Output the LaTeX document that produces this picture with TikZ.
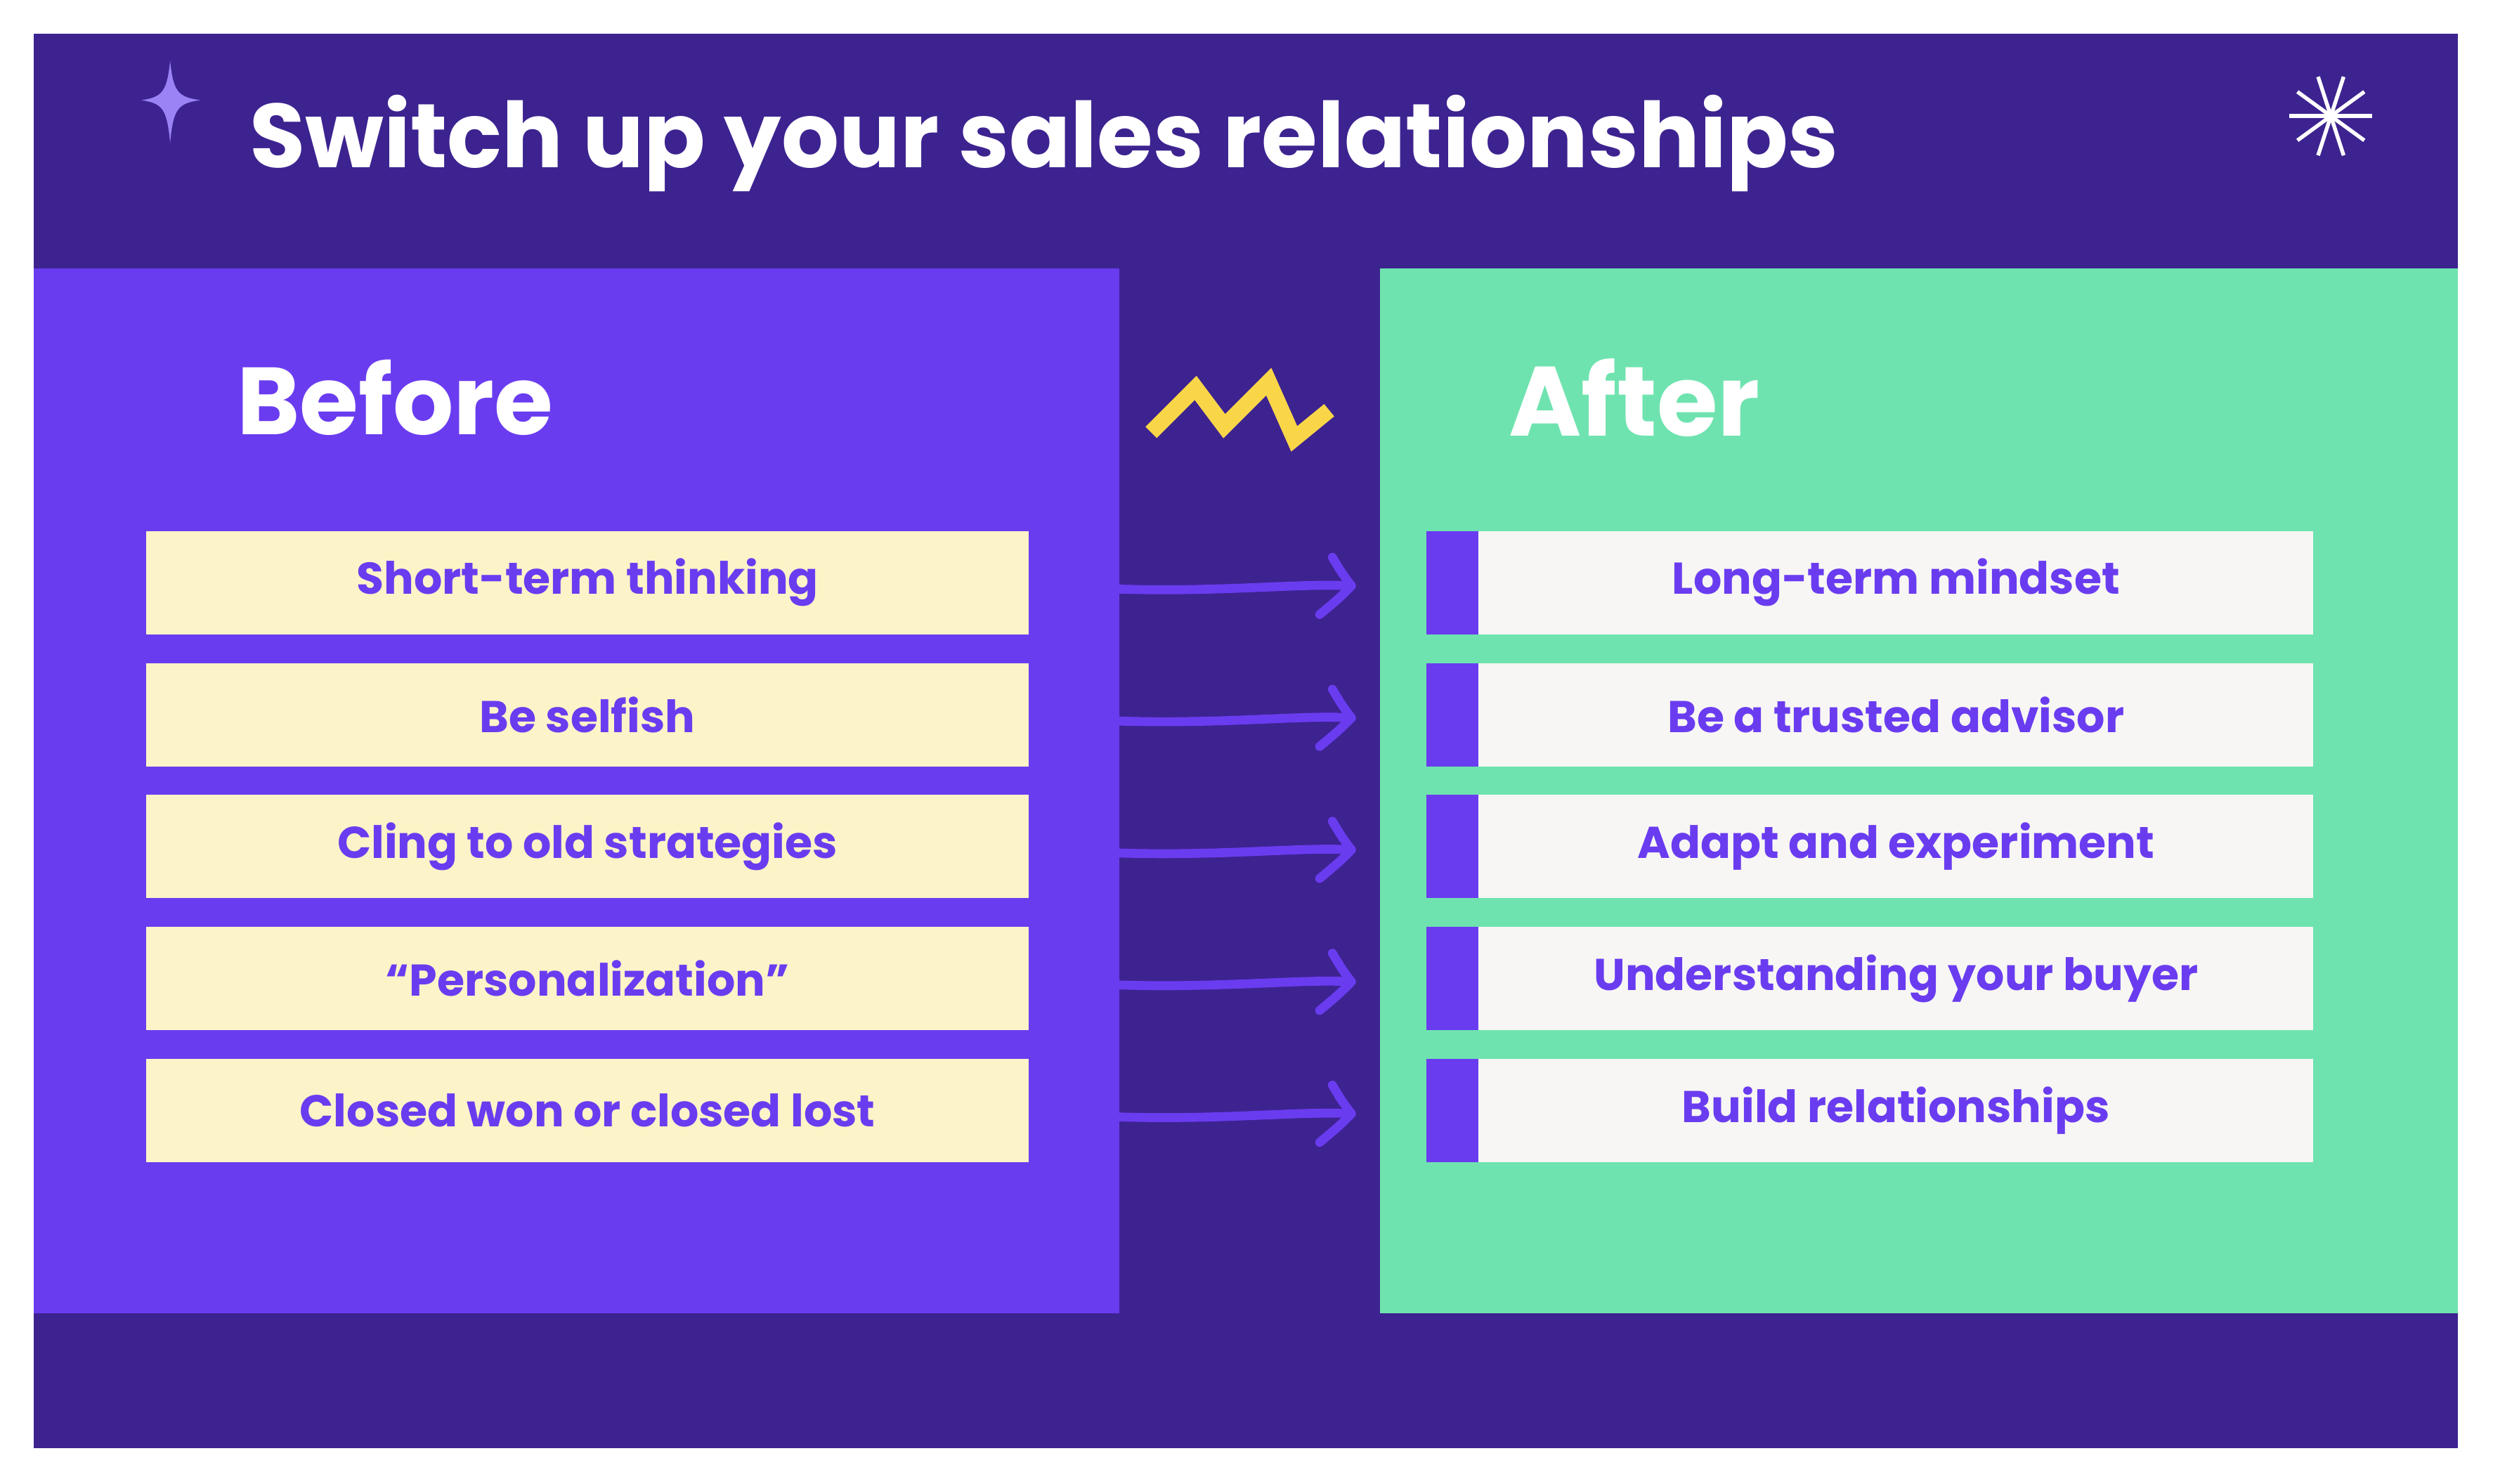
\documentclass[tikz,border=0pt]{standalone}
\usepackage{fontspec}
\setmainfont{Poppins}[BoldFont={* Bold}]
\begin{document}
\definecolor{dark}{HTML}{3D2390}
\definecolor{purp}{HTML}{6A3CF0}
\definecolor{mint}{HTML}{6FE3AF}
\definecolor{cream}{HTML}{FDF3C8}
\definecolor{offw}{HTML}{F7F6F4}
\definecolor{yel}{HTML}{F9D648}
\definecolor{lpur}{HTML}{9B82F5}
\begin{tikzpicture}[x=0.5pt,y=-0.5pt,
  lbox/.style={fill=cream,draw=none,minimum width=277.5pt,minimum height=32.5pt,inner sep=0,font=\bfseries\fontsize{14}{16}\selectfont,text=purp},
  rbox/.style={fill=offw,draw=none,minimum width=262.5pt,minimum height=32.5pt,inner sep=0,font=\bfseries\fontsize{14}{16}\selectfont,text=purp},
  arr/.style={draw=purp,line width=2.8pt,line cap=round,line join=round}]
\useasboundingbox (0,0) rectangle (1568,933);
\fill[white] (0,0) rectangle (1568,933);
\fill[dark] (21,21) rectangle (1546,911);
\fill[purp] (21,169) rectangle (704,826);
\fill[mint] (868,169) rectangle (1546,826);
\node[anchor=west,text=white,font=\bfseries\fontsize{28.5}{34}\selectfont] (title) at (150,90) {Switch up your sales relationships};
\node[anchor=west,text=white,font=\bfseries\fontsize{30}{36}\selectfont] (before) at (142,250) {Before};
\node[anchor=west,text=white,font=\bfseries\fontsize{31}{36}\selectfont] (after) at (942,250) {After};
% sparkle
\fill[lpur] (107,38) .. controls (109,58) and (112,61) .. (126,63) .. controls (112,65) and (109,68) .. (107,90) .. controls (105,68) and (102,65) .. (89,63) .. controls (102,61) and (105,58) .. (107,38) -- cycle;
% asterisk
\foreach \a in {0,36,72,108,144}{\draw[white,line width=1.2pt] (1466,73) ++(\a:26) -- ++(\a+180:52);}
% zigzag
\draw[yel,line width=5pt,line join=miter] (724,272) -- (752,244) -- (770,268) -- (798,240) -- (814,276) -- (836,258);
\foreach \i/\t/\u [count=\k] in {0/Short-term thinking/Long-term mindset,1/Be selfish/Be a trusted advisor,2/Cling to old strategies/Adapt and experiment,3/“Personalization”/Understanding your buyer,4/Closed won or closed lost/Build relationships}{
  \pgfmathsetmacro\yy{366.5+83*\i}
  \node[lbox] (L\k) at (369.5,\yy) {\t};
  \fill[offw] (930,\yy-32.5) rectangle (1455,\yy+32.5);
  \node[rbox,fill=none] (R\k) at (1192.5,\yy) {\u};
  \fill[purp] (897,\yy-32.5) rectangle (930,\yy+32.5);
  \coordinate (s\k) at (704,\yy+4);
  \coordinate (e\k) at (850,\yy+2);
  \draw[arr] (s\k) .. controls (770,\yy+6) and (820,\yy) .. (e\k);
  \draw[arr] (838,\yy-16) .. controls (844,\yy-6) .. (e\k) .. controls (842,\yy+10) .. (830,\yy+20);
}
\end{tikzpicture}
\end{document}
